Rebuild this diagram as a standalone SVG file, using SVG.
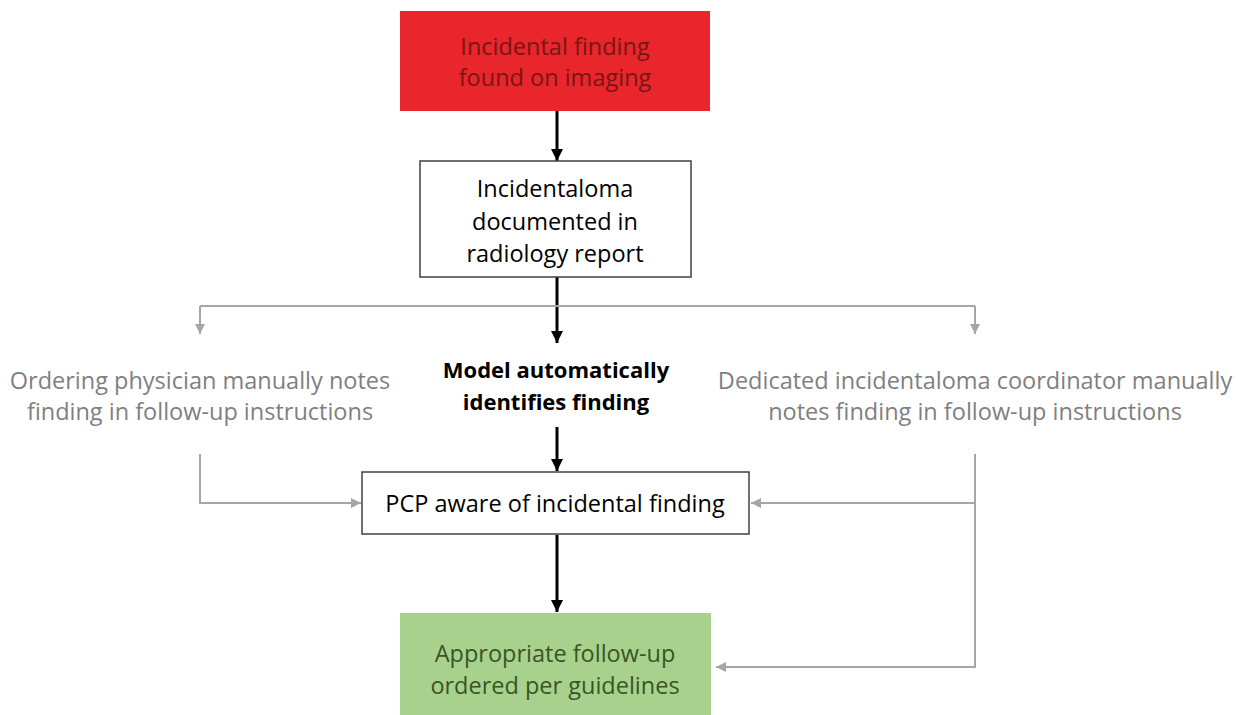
<svg xmlns="http://www.w3.org/2000/svg" width="1238" height="715" viewBox="0 0 1238 715">
<defs>
<marker id="ab" viewBox="0 0 10 10" refX="10" refY="5" markerWidth="4" markerHeight="4" markerUnits="strokeWidth" orient="auto"><path d="M0,0 L10,5 L0,10 z" fill="#000"/></marker>
<marker id="ag" viewBox="0 0 10 10" refX="10" refY="5" markerWidth="5" markerHeight="5" markerUnits="strokeWidth" orient="auto"><path d="M0,0 L10,5 L0,10 z" fill="#a6a6a6"/></marker>
</defs>
<style>
text{font-family:"Open Sans","Liberation Sans",sans-serif;font-size:23.5px;text-anchor:middle}
.b{font-weight:bold;font-size:22px}
.blk{stroke:#000;stroke-width:3;fill:none}
.gry{stroke:#a6a6a6;stroke-width:2;fill:none}
.box{fill:#fff;stroke:#404040;stroke-width:1.5}
.g{fill:#7f7f7f}
</style>
<rect width="1238" height="715" fill="#fff"/>
<g id="connectors">
<path class="blk" d="M557,111 V161" marker-end="url(#ab)"/>
<path class="blk" d="M557,277 V343" marker-end="url(#ab)"/>
<path class="blk" d="M557,427 V471" marker-end="url(#ab)"/>
<path class="blk" d="M557,535 V612" marker-end="url(#ab)"/>
<path class="gry" d="M200,306 H975"/>
<path class="gry" d="M200,306 V334" marker-end="url(#ag)"/>
<path class="gry" d="M975,306 V334" marker-end="url(#ag)"/>
<path class="gry" d="M200,454 V503 H361" marker-end="url(#ag)"/>
<path class="gry" d="M975,454 V667 H716" marker-end="url(#ag)"/>
<path class="gry" d="M975,503 H751" marker-end="url(#ag)"/>
</g>
<g id="n1">
<rect x="400" y="11" width="310" height="100" fill="#e8262b"/>
<text x="555" y="55" fill="#7a1515">Incidental finding</text>
<text x="555" y="86" fill="#7a1515">found on imaging</text>
</g>
<g id="n2">
<rect class="box" x="420" y="161" width="271" height="116"/>
<text x="555" y="197">Incidentaloma</text>
<text x="555" y="230">documented in</text>
<text x="555" y="262">radiology report</text>
</g>
<g id="n3">
<text class="b" x="556" y="378">Model automatically</text>
<text class="b" x="556" y="410">identifies finding</text>
</g>
<g id="n4">
<text class="g" x="200" y="389">Ordering physician manually notes</text>
<text class="g" x="200" y="420">finding in follow-up instructions</text>
</g>
<g id="n5">
<text class="g" x="975" y="389">Dedicated incidentaloma coordinator manually</text>
<text class="g" x="975" y="420">notes finding in follow-up instructions</text>
</g>
<g id="n6">
<rect class="box" x="362" y="472" width="387" height="62"/>
<text x="555" y="512">PCP aware of incidental finding</text>
</g>
<g id="n7">
<rect x="400" y="613" width="311" height="102" fill="#a9d18e"/>
<text x="555" y="662" fill="#375623">Appropriate follow-up</text>
<text x="555" y="694" fill="#375623">ordered per guidelines</text>
</g>
</svg>
